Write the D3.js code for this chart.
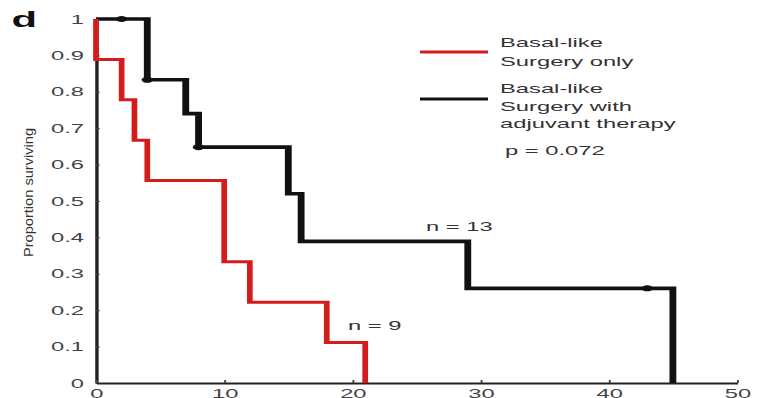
<!DOCTYPE html>
<html>
<head>
<meta charset="utf-8">
<script src="https://cdn.jsdelivr.net/npm/d3@7"></script>
<style>
  body { margin: 0; background: #fff; }
  text { font-family: "Liberation Sans", Arial, sans-serif; fill: #333; }
</style>
</head>
<body>
<div class="km-container"></div>
<script>
// Kaplan-Meier data
const redTimes = [0, 0, 2, 3, 4, 10, 12, 18, 21];
const redSurv  = [1, 0.889, 0.778, 0.667, 0.556, 0.333, 0.222, 0.111, 0];

const blackTimes = [0, 4, 7, 8, 15, 16, 29, 45];
const blackSurv  = [1, 0.833, 0.74, 0.648, 0.52, 0.389, 0.26, 0];

// censored marks (black curve)
const censorTimes = [2, 4, 8, 43];
const censorSurv  = [1, 0.833, 0.648, 0.26];

const xTicks = [0, 10, 20, 30, 40, 50];
const yTicks = [0, 0.1, 0.2, 0.3, 0.4, 0.5, 0.6, 0.7, 0.8, 0.9, 1];
const yTickLabels = ['0', '0.1', '0.2', '0.3', '0.4', '0.5', '0.6', '0.7', '0.8', '0.9', '1'];

const legendLabels = [
  ['Basal-like', 'Surgery only'],
  ['Basal-like', 'Surgery with', 'adjuvant therapy']
];
const seriesColors = ['#d41c1c', '#111'];

const svg_width = 758, svg_height = 398;
const S = 1.9; // the figure is stretched horizontally

const svg = d3.select('.km-container').append('svg')
  .attr('width', svg_width).attr('height', svg_height);

// everything except the y title lives in a horizontally stretched group
const g = svg.append('g').attr('transform', `scale(${S},1)`);

const xScale = d3.scaleLinear().domain([0, 50]).range([96 / S, 737 / S]);
const yScale = d3.scaleLinear().domain([0, 1]).range([383, 19]);

// axes
const yAxis = d3.axisLeft(yScale)
  .tickValues(yTicks)
  .tickFormat((d, i) => yTickLabels[i])
  .tickSizeInner(-2).tickSizeOuter(0);
const yAxisDraw = g.append('g')
  .attr('transform', `translate(${xScale(0)},0)`)
  .call(yAxis);
yAxisDraw.selectAll('text').attr('x', -6.3).style('font-size', '12.5px').style('fill', '#444');

const xAxis = d3.axisBottom(xScale)
  .tickValues(xTicks)
  .tickSizeInner(-3).tickSizeOuter(0);
const xAxisDraw = g.append('g')
  .attr('transform', `translate(0,${yScale(0)})`)
  .call(xAxis);
xAxisDraw.selectAll('text').attr('y', 6).style('font-size', '12.5px').style('fill', '#444');

[yAxisDraw, xAxisDraw].forEach(a => {
  a.select('.domain').attr('stroke', '#222').attr('stroke-width', 1.8);
  a.selectAll('.tick line').attr('stroke', '#444').attr('stroke-width', 1);
});

// survival curves
const line = d3.line()
  .x(d => xScale(d[0]))
  .y(d => yScale(d[1]))
  .curve(d3.curveStepAfter);

g.append('path')
  .datum(d3.zip(blackTimes, blackSurv))
  .attr('d', line)
  .attr('fill', 'none')
  .attr('stroke', seriesColors[1])
  .attr('stroke-width', 3.6);

g.append('path')
  .datum(d3.zip(redTimes, redSurv))
  .attr('d', line)
  .attr('fill', 'none')
  .attr('stroke', seriesColors[0])
  .attr('stroke-width', 3);

g.selectAll('.censor')
  .data(d3.zip(censorTimes, censorSurv)).enter()
  .append('circle')
  .attr('class', 'censor')
  .attr('cx', d => xScale(d[0]))
  .attr('cy', d => yScale(d[1]))
  .attr('r', 3)
  .attr('fill', '#111');

// legend
const legendLineY = [52, 99];
const legendTextY = [[47.5, 66.5], [93.5, 111.5, 128.5]];
legendLabels.forEach((lines, i) => {
  g.append('line')
    .attr('x1', 420 / S).attr('x2', 488 / S)
    .attr('y1', legendLineY[i]).attr('y2', legendLineY[i])
    .attr('stroke', seriesColors[i]).attr('stroke-width', 3);
  lines.forEach((t, j) => {
    g.append('text')
      .attr('x', 500 / S).attr('y', legendTextY[i][j])
      .style('font-size', '12.5px')
      .text(t);
  });
});

g.append('text').attr('x', 505 / S).attr('y', 155.5)
  .style('font-size', '12.5px').text('p = 0.072');

// n labels
g.append('text').attr('x', 426 / S).attr('y', 231.5)
  .style('font-size', '12.5px').text('n = 13');
g.append('text').attr('x', 348 / S).attr('y', 330.5)
  .style('font-size', '12.5px').text('n = 9');

// panel letter
g.append('text').attr('x', 6).attr('y', 27)
  .style('font-size', '22px').style('font-weight', 'bold').style('fill', '#111')
  .text('d');

// y title (not stretched)
svg.append('text')
  .attr('transform', 'translate(32.5,192.5) rotate(-90)')
  .attr('text-anchor', 'middle')
  .attr('textLength', 129).attr('lengthAdjust', 'spacingAndGlyphs')
  .style('font-size', '13px')
  .text('Proportion surviving');
</script>
</body>
</html>
